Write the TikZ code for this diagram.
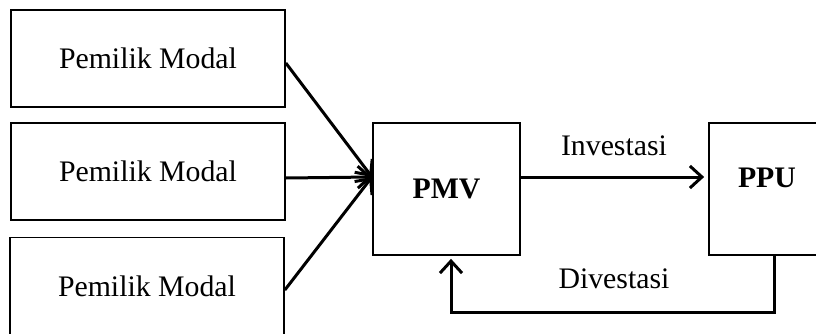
\documentclass[tikz,border=0pt]{standalone}
\usepackage{fontspec}
\setmainfont{Liberation Serif}
\usetikzlibrary{arrows.meta}
\begin{document}
\begin{tikzpicture}[x=0.5pt,y=-0.5pt,
        box/.style={draw,line width=0.85pt,inner sep=0pt},
        arr/.style={line width=1.5pt,-{Straight Barb[length=6pt,width=11pt,line width=1.5pt]}},
        txt/.style={font=\fontsize{14.9}{17}\selectfont}]
    \useasboundingbox (0,0) rectangle (816,333);
    % sources
    \node [box,txt,minimum width=137pt,minimum height=48.5pt] (modalA) at (148,58.5) {Pemilik Modal};
    \node [box,txt,minimum width=137pt,minimum height=48.5pt] (modalB) at (148,171.5) {Pemilik Modal};
    \node [box,txt,minimum width=137pt,minimum height=48.5pt] (modalC) at (147,286) {Pemilik Modal};
    % PMV and PPU
    \node [box,txt,font=\fontsize{14.9}{17}\selectfont\bfseries,minimum width=73.5pt,minimum height=66pt] (pmv) at (446.5,189) {PMV};
    \node [box,minimum width=65pt,minimum height=66pt] (ppu) at (774,189) {};
    \node [txt,font=\fontsize{14.9}{17}\selectfont\bfseries] (ppuText) at (767,178) {PPU};
    \coordinate (pmvIn) at (372,177);
    \draw [arr] ([yshift=-2.25pt]modalA.east) -- (pmvIn);
    \draw [arr] ([yshift=-3.25pt]modalB.east) -- (pmvIn);
    \draw [arr] ([yshift=-2pt]modalC.east) -- (pmvIn);
    % flows
    \draw [arr,shorten >=2pt] ([yshift=6pt]pmv.east) -- ([yshift=6pt]ppu.west);
    \draw [arr,shorten >=1.5pt] (ppu.south) -- ++(0,57) -| ([xshift=2.25pt]pmv.south);
    \node [txt] (invest) at (614,146) {Investasi};
    \node [txt] (divest) at (614,279) {Divestasi};
\end{tikzpicture}
\end{document}
